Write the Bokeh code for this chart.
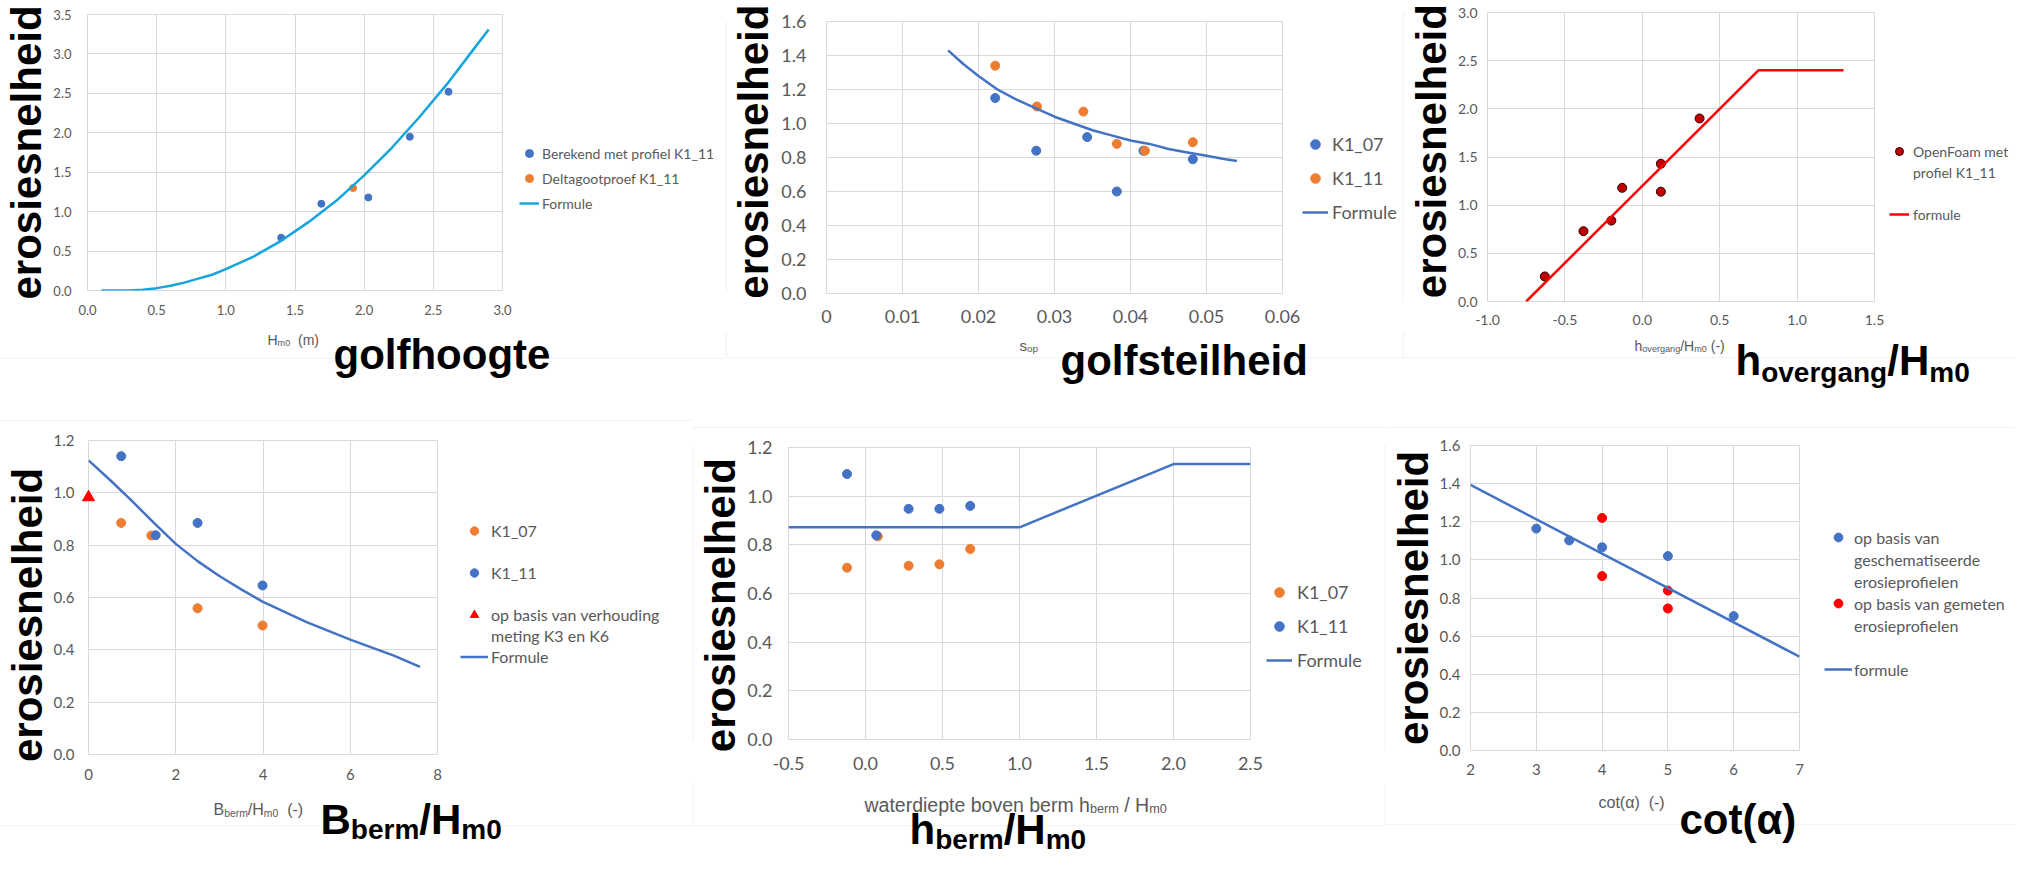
import math
from bokeh.plotting import figure
from bokeh.models import (Range1d, FixedTicker, Label, Legend, LegendItem, BoxAnnotation, Spacer,
                          NumeralTickFormatter, CustomJSTickFormatter)
from bokeh.layouts import row, column
from bokeh.embed import file_html
from bokeh.resources import INLINE

# ---------------- data ----------------
# panel 1: golfhoogte
hm0_berekend = [1.40, 1.69, 2.03, 2.33, 2.61]
e_berekend = [0.67, 1.10, 1.18, 1.95, 2.52]
hm0_delta = [1.92]
e_delta = [1.30]
hm0_formule = [0.1, 0.2, 0.3, 0.4, 0.5, 0.6, 0.7, 0.8, 0.9, 1.0, 1.2, 1.4, 1.6, 1.8, 2.0, 2.2, 2.4, 2.6, 2.8, 2.9]
e_formule_1 = [0.00, 0.00, 0.00, 0.01, 0.03, 0.06, 0.10, 0.15, 0.20, 0.27, 0.43, 0.63, 0.87, 1.14, 1.46, 1.81, 2.20, 2.62, 3.08, 3.31]
x1_ticks = [0.0, 0.5, 1.0, 1.5, 2.0, 2.5, 3.0]
y1_ticks = [0.0, 0.5, 1.0, 1.5, 2.0, 2.5, 3.0, 3.5]

# panel 2: golfsteilheid
sop_07 = [0.0222, 0.0276, 0.0343, 0.0382, 0.0417, 0.0482]
e_sop_07 = [1.15, 0.84, 0.92, 0.60, 0.84, 0.79]
sop_11 = [0.0222, 0.0277, 0.0338, 0.0382, 0.0419, 0.0482]
e_sop_11 = [1.34, 1.10, 1.07, 0.88, 0.84, 0.89]
sop_formule = [0.016, 0.018, 0.020, 0.0225, 0.025, 0.0275, 0.030, 0.0325, 0.035, 0.0375,
               0.040, 0.0425, 0.045, 0.0475, 0.050, 0.0525, 0.054]
e_formule_2 = [1.43, 1.35, 1.28, 1.20, 1.14, 1.09, 1.04, 1.00, 0.96, 0.93,
               0.90, 0.88, 0.85, 0.83, 0.81, 0.79, 0.78]
x2_ticks = [0.0, 0.01, 0.02, 0.03, 0.04, 0.05, 0.06]
y2_ticks = [0.0, 0.2, 0.4, 0.6, 0.8, 1.0, 1.2, 1.4, 1.6]

# panel 3: h_overgang / Hm0
hov = [-0.63, -0.38, -0.20, -0.13, 0.12, 0.12, 0.37]
e_hov = [0.26, 0.73, 0.84, 1.18, 1.43, 1.14, 1.90]
hov_formule = [-0.75, 0.75, 1.30]
e_formule_3 = [0.00, 2.40, 2.40]
x3_ticks = [-1.0, -0.5, 0.0, 0.5, 1.0, 1.5]
y3_ticks = [0.0, 0.5, 1.0, 1.5, 2.0, 2.5, 3.0]

# panel 4: B_berm / Hm0
bb_07 = [0.75, 1.44, 2.50, 3.99]
e_bb_07 = [0.885, 0.837, 0.559, 0.493]
bb_11 = [0.75, 1.54, 2.50, 3.99]
e_bb_11 = [1.140, 0.838, 0.885, 0.646]
bb_k3k6 = [0.0]
e_bb_k3k6 = [0.983]
bb_formule = [0.0, 0.5, 1.0, 1.5, 2.0, 2.5, 3.0, 3.5, 4.0, 5.0, 6.0, 7.0, 7.6]
e_formule_4 = [1.124, 1.048, 0.968, 0.885, 0.805, 0.739, 0.682, 0.631, 0.583, 0.506, 0.439, 0.378, 0.335]
x4_ticks = [0, 2, 4, 6, 8]
y4_ticks = [0.0, 0.2, 0.4, 0.6, 0.8, 1.0, 1.2]

# panel 5: h_berm / Hm0
hb_07 = [-0.12, 0.08, 0.28, 0.48, 0.68]
e_hb_07 = [0.706, 0.835, 0.714, 0.720, 0.783]
hb_11 = [-0.12, 0.07, 0.28, 0.48, 0.68]
e_hb_11 = [1.091, 0.839, 0.948, 0.948, 0.960]
hb_formule = [-0.5, 1.0, 2.0, 2.5]
e_formule_5 = [0.872, 0.872, 1.132, 1.132]
x5_ticks = [-0.5, 0.0, 0.5, 1.0, 1.5, 2.0, 2.5]
y5_ticks = [0.0, 0.2, 0.4, 0.6, 0.8, 1.0, 1.2]

# panel 6: cot(alpha)
cot_schem = [3.0, 3.5, 4.0, 5.0, 6.0]
e_cot_schem = [1.164, 1.102, 1.066, 1.020, 0.705]
cot_gemeten = [4.0, 4.0, 5.0, 5.0]
e_cot_gemeten = [1.220, 0.915, 0.839, 0.745]
cot_formule = [2.0, 7.0]
e_formule_6 = [1.393, 0.492]
x6_ticks = [2, 3, 4, 5, 6, 7]
y6_ticks = [0.0, 0.2, 0.4, 0.6, 0.8, 1.0, 1.2, 1.4, 1.6]

# ---------------- style ----------------
BLUE = "#4472C4"
ORANGE = "#ED7D31"
LIGHTBLUE = "#14A4DE"
RED = "#FF0000"
DARKRED = "#C00000"
GRID = "#D9D9D9"
BORDER = "#DCDCDC"
TXT = "#595959"
SMALL = "Lato"
SEG = "Liberation Sans"
BIG = "Liberation Sans"
NB = "\u00a0"

AR = {' ': 278, NB: 278, '(': 333, ')': 333, '-': 333, '/': 278, '.': 278, 'H': 722, 'B': 667,
      'a': 556, 'b': 556, 'c': 500, 'd': 556, 'e': 556, 'g': 556, 'h': 556, 'i': 222,
      'm': 833, 'n': 556, 'o': 556, 'p': 556, 'r': 333, 's': 500, 't': 278, 'v': 500,
      'w': 722, 'α': 578}
ARB = {' ': 278, NB: 278, '(': 333, ')': 333, '/': 278, 'H': 722, 'B': 722, 'a': 556, 'b': 611,
       'c': 556, 'd': 611, 'e': 556, 'f': 333, 'g': 611, 'h': 611, 'i': 278, 'l': 278,
       'm': 889, 'n': 611, 'o': 611, 'p': 611, 'r': 389, 's': 556, 't': 333, 'v': 556,
       'α': 620}

# panel outlines (page pixels: left, top, right, bottom)
RECTS = [(-10, 6, 733.5, 366), (733.5, 6, 1410.5, 365), (1410.5, 6, 2060, 365),
         (-10, 428, 700.5, 833), (700.5, 435, 1392.5, 833), (1392.5, 435, 2060, 832)]


def text_w(s, bold):
    tab = ARB if bold else AR
    return sum(tab.get(c, 556) for c in s) / 1000.0


class Strip:
    """Figure without axes whose frame is its whole canvas; positions given in page pixels."""

    def __init__(self, left, top, w, h):
        self.left, self.top, self.w, self.h = left, top, w, h
        p = figure(width=w, height=h, x_range=Range1d(0, w), y_range=Range1d(0, h),
                   output_backend="svg", toolbar_location=None, title=None,
                   x_axis_location=None, y_axis_location=None,
                   min_border_left=0, min_border_right=0, min_border_top=0, min_border_bottom=0)
        p.outline_line_color = None
        p.background_fill_color = "white"
        p.border_fill_color = "white"
        p.xgrid.visible = False
        p.ygrid.visible = False
        self.p = p
        for (L, T, R, B) in RECTS:
            if R < left or L > left + w or B < top or T > top + h:
                continue
            p.add_layout(BoxAnnotation(left=self.X(L), right=self.X(R), top=self.Y(T), bottom=self.Y(B),
                                       fill_alpha=0, line_color=BORDER, line_width=1))

    def X(self, wx):
        return wx - self.left

    def Y(self, wy):
        return self.top + self.h - wy

    def segs(self, x, base, parts, size, bold, color, font, sub_ratio, sub_off):
        cx = x
        for txt, sub in parts:
            txt = txt.replace(" ", NB)
            s = size * sub_ratio if sub else size
            b = base + (sub_off if sub else 0)
            self.p.add_layout(Label(x=self.X(cx), y=self.Y(b), text=txt, text_align="left",
                                    text_baseline="alphabetic", text_font=font,
                                    text_font_style="bold" if bold else "normal",
                                    text_font_size=f"{s:.1f}px", text_color=color))
            cx += text_w(txt, bold) * s

    def big(self, x, base, parts, sub_off=10):
        self.segs(x, base, parts, 42, True, "black", BIG, 0.667, sub_off)

    def small(self, x, base, parts, size):
        self.segs(x, base, parts, size, False, TXT, SEG, 0.65, size * 0.22)

    def legend(self, entries, gw, H, S, stand, fs):
        items = []
        blank = None
        for label, kind, xs, ys, kw in entries:
            if kind == "scatter":
                r = self.p.scatter(x=xs, y=ys, visible=False, **kw)
            elif kind == "line":
                r = self.p.line(x=xs, y=ys, visible=False, **kw)
            else:
                if blank is None:
                    blank = self.p.scatter(x=[], y=[], alpha=0)
                r = blank
            items.append(LegendItem(label=label, renderers=[r]))
        lg = Legend(items=items, location="top_left",
                    glyph_width=gw, glyph_height=H, label_height=H, label_standoff=stand,
                    padding=0, margin=0, spacing=S, border_line_color=None,
                    background_fill_alpha=0, label_text_font=SMALL,
                    label_text_font_size=f"{fs}px", label_text_color=TXT,
                    inactive_fill_alpha=0)
        self.p.add_layout(lg)


def legend_area(left, top, w, h, gl, first_row, H, entries, gw, S, stand, fs):
    """Area right of a chart: spacers push the legend strip so its top-left is the first glyph box."""
    ltop = int(round(first_row - H / 2))
    dy = ltop - top
    dx = gl - left
    strip = Strip(gl, ltop, w - dx, h - dy)
    strip.legend(entries, gw, H, S, stand, fs)
    inner = strip.p if dx <= 0 else row(Spacer(width=dx, height=h - dy), strip.p)
    return column(Spacer(width=w, height=dy), inner)


class Chart:
    def __init__(self, left, top, w, h, frame, xr, yr):
        fl, ft, fr, fb = frame
        p = figure(width=w, height=h, x_range=Range1d(*xr), y_range=Range1d(*yr),
                   output_backend="svg", toolbar_location=None, title=None,
                   min_border_left=fl - left, min_border_right=left + w - fr,
                   min_border_top=ft - top, min_border_bottom=top + h - fb)
        p.outline_line_color = GRID
        p.background_fill_color = "white"
        p.border_fill_color = "white"
        self.p = p

    def axes(self, xt, yt, fs, xstand, ystand, xfmt, yfmt, title_standoff, lead=0, trail=0):
        p = self.p
        p.xaxis.ticker = FixedTicker(ticks=xt)
        p.yaxis.ticker = FixedTicker(ticks=yt)
        p.xgrid.ticker = FixedTicker(ticks=xt)
        p.ygrid.ticker = FixedTicker(ticks=yt)
        p.xaxis.formatter = xfmt
        p.yaxis.formatter = yfmt
        for ax in (p.xaxis, p.yaxis):
            ax.axis_line_color = None
            ax.major_tick_line_color = None
            ax.minor_tick_line_color = None
            ax.major_tick_out = 0
            ax.major_tick_in = 0
            ax.minor_tick_out = 0
            ax.major_label_text_font = SMALL
            ax.major_label_text_font_size = f"{fs}px"
            ax.major_label_text_color = TXT
        p.xaxis.major_label_standoff = xstand
        p.yaxis.major_label_standoff = ystand
        y = p.yaxis[0]
        # non-breaking spaces nudge the centred title along the axis like the reference overlay
        y.axis_label = NB * lead + "erosiesnelheid" + NB * trail
        y.axis_label_text_font = BIG
        y.axis_label_text_font_style = "bold"
        y.axis_label_text_font_size = "42px"
        y.axis_label_text_color = "black"
        y.axis_label_standoff = title_standoff
        for g in (p.xgrid, p.ygrid):
            g.grid_line_color = GRID
            g.grid_line_width = 1


fmt1 = NumeralTickFormatter(format="0.0")
fmt0 = NumeralTickFormatter(format="0")


def dot(color, size):
    return dict(size=size, color=color)


def ln(color):
    return dict(line_width=2.5, color=color)


BL = (" ", "blank", None, None, None)

# ================= top row =================
# ---- panel 1 ----
C1 = Chart(8, 8, 518, 323, (91, 22, 510, 298), (0, 3), (0, 3.5))
B1 = Strip(8, 331, 725, 89)
C1.axes(x1_ticks, y1_ticks, 13, 14, 16, fmt1, fmt1, 0)
C1.p.scatter(hm0_berekend, e_berekend, size=7, color=BLUE)
C1.p.scatter(hm0_delta, e_delta, size=7, color=ORANGE)
C1.p.line(hm0_formule, e_formule_1, line_width=2.5, color=LIGHTBLUE)
R1 = legend_area(526, 8, 207, 323, 527, 161, 20,
                 [("Berekend met profiel K1_11", "scatter", hm0_berekend, e_berekend, dot(BLUE, 7)),
                  ("Deltagootproef K1_11", "scatter", hm0_delta, e_delta, dot(ORANGE, 7)),
                  ("Formule", "line", hm0_formule, e_formule_1, ln(LIGHTBLUE))], 20, 5, 3, 14)
B1.small(275, 347, [("H", 0), ("m0", 1), ("  (m)", 0)], 14)
B1.big(341, 362, [("golfhoogte", 0)])

# ---- panel 2 ----
E2 = Strip(733, 8, 2, 332)
C2 = Chart(735, 8, 575, 332, (828, 29, 1290, 301), (0, 0.06), (0, 1.6))
B2 = Strip(733, 340, 677, 80)
C2.axes(x2_ticks, y2_ticks, 18, 16, 20,
        CustomJSTickFormatter(code="return tick == 0 ? '0' : tick.toFixed(2);"), fmt1, 1, lead=1)
C2.p.scatter(sop_07, e_sop_07, size=9, color=BLUE)
C2.p.scatter(sop_11, e_sop_11, size=9, color=ORANGE)
C2.p.line(sop_formule, e_formule_2, line_width=2.5, color=BLUE)
R2 = legend_area(1310, 8, 100, 332, 1310, 152, 24,
                 [("K1_07", "scatter", sop_07, e_sop_07, dot(BLUE, 9)),
                  ("K1_11", "scatter", sop_11, e_sop_11, dot(ORANGE, 9)),
                  ("Formule", "line", sop_formule, e_formule_2, ln(BLUE))], 26, 10, 4, 18)
B2.small(1027, 353, [("s", 0), ("op", 1)], 15)
B2.big(1068, 368, [("golfsteilheid", 0)])

# ---- panel 3 ----
E3 = Strip(1410, 8, 2, 332)
C3 = Chart(1412, 8, 485, 332, (1488, 20, 1882, 309), (-1.0, 1.5), (0, 3.0))
B3 = Strip(1410, 340, 613, 80)
C3.axes(x3_ticks, y3_ticks, 14, 13, 10, fmt1, fmt1, 0, lead=1)
C3.p.scatter(hov, e_hov, size=9, fill_color=DARKRED, line_color="#2a0000", line_width=1)
C3.p.line(hov_formule, e_formule_3, line_width=2.5, color=RED)
R3 = legend_area(1897, 8, 126, 332, 1897, 159, 20,
                 [("OpenFoam met", "scatter", hov, e_hov,
                   dict(size=8, fill_color=DARKRED, line_color="#2a0000")),
                  ("profiel K1_11", "blank", None, None, None), BL,
                  ("formule", "line", hov_formule, e_formule_3, ln(RED))], 20, 1, 4, 14)
B3.small(1642, 353, [("h", 0), ("overgang", 1), ("/H", 0), ("m0", 1), (" (-)", 0)], 14)
B3.big(1743, 368, [("h", 0), ("overgang", 1), ("/H", 0), ("m0", 1)], sub_off=12)

# ================= bottom row =================
# ---- panel 4 ----
T4 = Strip(8, 420, 692, 12)
C4 = Chart(8, 432, 452, 364, (90, 448, 445, 762), (0, 8), (0, 1.2))
B4 = Strip(8, 796, 692, 66)
C4.axes(x4_ticks, y4_ticks, 15, 14, 14, fmt0, fmt1, 0, trail=3)
C4.p.scatter(bb_07, e_bb_07, size=9, color=ORANGE)
C4.p.scatter(bb_11, e_bb_11, size=9, color=BLUE)
C4.p.scatter(bb_k3k6, e_bb_k3k6, size=12, marker="triangle", color=RED, level="overlay")
C4.p.line(bb_formule, e_formule_4, line_width=2.5, color=BLUE)
R4 = legend_area(460, 432, 240, 364, 468, 538, 21,
                 [("K1_07", "scatter", bb_07, e_bb_07, dot(ORANGE, 9)), BL,
                  ("K1_11", "scatter", bb_11, e_bb_11, dot(BLUE, 9)), BL,
                  ("op basis van verhouding", "scatter", bb_k3k6, e_bb_k3k6,
                   dict(size=11, marker="triangle", color=RED)),
                  ("meting K3 en K6", "blank", None, None, None),
                  ("Formule", "line", bb_formule, e_formule_4, ln(BLUE))], 28, 0, 3, 16)
B4.small(221, 817, [("B", 0), ("berm", 1), ("/H", 0), ("m0", 1), ("  (-)", 0)], 16)
B4.big(328, 827, [("B", 0), ("berm", 1), ("/H", 0), ("m0", 1)])

# ---- panel 5 ----
T5 = Strip(700, 420, 692, 17)
E5 = Strip(700, 437, 2, 353)
C5 = Chart(702, 437, 572, 353, (790, 455, 1258, 747), (-0.5, 2.5), (0, 1.2))
B5 = Strip(700, 790, 692, 72)
C5.axes(x5_ticks, y5_ticks, 18, 17, 16, fmt1, fmt1, 0, trail=2)
C5.p.scatter(hb_07, e_hb_07, size=9, color=ORANGE)
C5.p.scatter(hb_11, e_hb_11, size=9, color=BLUE)
C5.p.line(hb_formule, e_formule_5, line_width=2.5, color=BLUE)
R5 = legend_area(1274, 437, 118, 353, 1274, 600, 24,
                 [("K1_07", "scatter", hb_07, e_hb_07, dot(ORANGE, 9)),
                  ("K1_11", "scatter", hb_11, e_hb_11, dot(BLUE, 9)),
                  ("Formule", "line", hb_formule, e_formule_5, ln(BLUE))], 26, 10, 5, 18)
B5.small(872, 812, [("waterdiepte boven berm h", 0), ("berm", 1), (" / H", 0), ("m0", 1)], 19.5)
B5.big(917, 837, [("h", 0), ("berm", 1), ("/H", 0), ("m0", 1)])

# ---- panel 6 ----
T6 = Strip(1392, 420, 631, 17)
E6 = Strip(1392, 437, 2, 355)
C6 = Chart(1394, 437, 426, 355, (1472, 453, 1807, 758), (2, 7), (0, 1.6))
B6 = Strip(1392, 792, 631, 70)
C6.axes(x6_ticks, y6_ticks, 15, 13, 10, fmt0, fmt1, 0)
C6.p.scatter(cot_schem, e_cot_schem, size=9, color=BLUE)
C6.p.scatter(cot_gemeten, e_cot_gemeten, size=9, color=RED)
C6.p.line(cot_formule, e_formule_6, line_width=2.5, color=BLUE)
R6 = legend_area(1820, 437, 203, 355, 1832, 545, 22,
                 [("op basis van", "scatter", cot_schem, e_cot_schem, dot(BLUE, 9)),
                  ("geschematiseerde", "blank", None, None, None),
                  ("erosieprofielen", "blank", None, None, None),
                  ("op basis van gemeten", "scatter", cot_gemeten, e_cot_gemeten, dot(RED, 9)),
                  ("erosieprofielen", "blank", None, None, None), BL,
                  ("formule", "line", cot_formule, e_formule_6, ln(BLUE))], 28, 0, 2, 16)
B6.small(1606, 810, [("cot(α)  (-)", 0)], 16)
B6.big(1687, 827, [("cot(α)", 0)])

top = row(column(row(C1.p, R1), B1.p),
          column(row(E2.p, C2.p, R2), B2.p),
          column(row(E3.p, C3.p, R3), B3.p))
bottom = row(column(T4.p, row(C4.p, R4), B4.p),
             column(T5.p, row(E5.p, C5.p, R5), B5.p),
             column(T6.p, row(E6.p, C6.p, R6), B6.p))
layout = column(top, bottom)
open("out.html", "w").write(file_html(layout, INLINE))
